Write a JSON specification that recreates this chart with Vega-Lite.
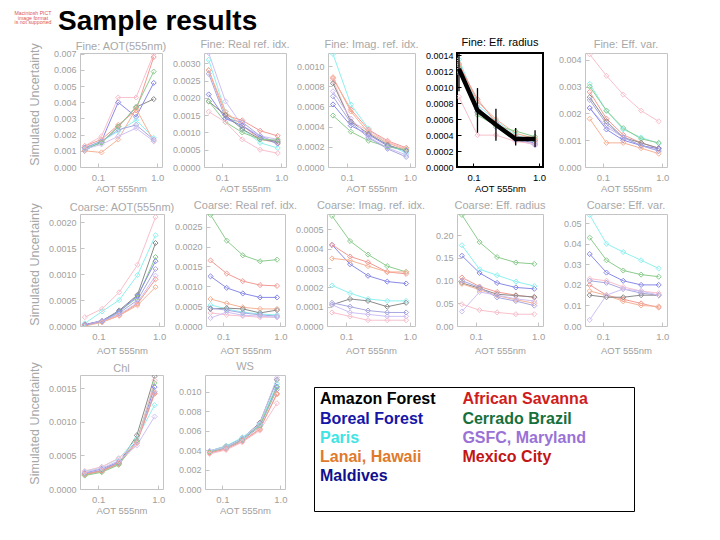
{
"$schema": "https://vega.github.io/schema/vega-lite/v6.json",
"padding": {"left": 14, "top": 8, "right": 0, "bottom": 0},
"background": "white",
"title": {"text": ["Macintosh PICT", "image format", "is not supported"], "fontSize": 5.2, "lineHeight": 4.5, "color": "#dd5555", "fontWeight": "normal", "anchor": "start", "frame": "group", "align": "center", "dx": -47, "offset": -17},
"config": {
  "font": "Liberation Sans",
  "view": {"stroke": "#c4c4c4", "strokeWidth": 1},
  "axis": {"grid": false, "domain": false, "ticks": true, "tickSize": -4, "tickColor": "#c4c4c4", "tickWidth": 1, "labelColor": "#a0a0a0", "titleColor": "#a0a0a0", "labelFontSize": 9, "titleFontSize": 9.5, "titleFontWeight": "normal", "labelPadding": 8, "labelFlush": false, "labelOverlap": false, "labelFont": "Liberation Sans", "titleFont": "Liberation Sans"},
  "axisX": {"labelPadding": 9, "titlePadding": 1.5, "labelFontSize": 9.5},
  "title": {"color": "#a8a8a8", "fontSize": 11, "fontWeight": "normal", "offset": 3, "frame": "group", "anchor": "middle", "font": "Liberation Sans"}
},
"datasets": {
"sites": [{"site":"Amazon Forest"},{"site":"Boreal Forest"},{"site":"Paris"},{"site":"Lanai, Hawaii"},{"site":"Maldives"},{"site":"African Savanna"},{"site":"Cerrado Brazil"},{"site":"GSFC, Maryland"},{"site":"Mexico City"}],
"fine_aot": [
{"site":"Amazon Forest","aot":0.06,"value":0.0012},{"site":"Amazon Forest","aot":0.115,"value":0.0015},{"site":"Amazon Forest","aot":0.22,"value":0.0025},{"site":"Amazon Forest","aot":0.44,"value":0.0037},{"site":"Amazon Forest","aot":0.87,"value":0.0042},
{"site":"Boreal Forest","aot":0.06,"value":0.0010},{"site":"Boreal Forest","aot":0.115,"value":0.0016},{"site":"Boreal Forest","aot":0.22,"value":0.0040},{"site":"Boreal Forest","aot":0.44,"value":0.0031},{"site":"Boreal Forest","aot":0.87,"value":0.0052},
{"site":"Paris","aot":0.06,"value":0.0011},{"site":"Paris","aot":0.115,"value":0.0016},{"site":"Paris","aot":0.22,"value":0.0022},{"site":"Paris","aot":0.44,"value":0.0029},{"site":"Paris","aot":0.87,"value":0.0018},
{"site":"Lanai, Hawaii","aot":0.06,"value":0.0010},{"site":"Lanai, Hawaii","aot":0.115,"value":0.0009},{"site":"Lanai, Hawaii","aot":0.22,"value":0.0017},{"site":"Lanai, Hawaii","aot":0.44,"value":0.0036},{"site":"Lanai, Hawaii","aot":0.87,"value":0.0016},
{"site":"Maldives","aot":0.06,"value":0.0012},{"site":"Maldives","aot":0.115,"value":0.0016},{"site":"Maldives","aot":0.22,"value":0.0023},{"site":"Maldives","aot":0.44,"value":0.0026},{"site":"Maldives","aot":0.87,"value":0.0017},
{"site":"African Savanna","aot":0.06,"value":0.0013},{"site":"African Savanna","aot":0.115,"value":0.0017},{"site":"African Savanna","aot":0.22,"value":0.0026},{"site":"African Savanna","aot":0.44,"value":0.0035},{"site":"African Savanna","aot":0.87,"value":0.0068},
{"site":"Cerrado Brazil","aot":0.06,"value":0.0011},{"site":"Cerrado Brazil","aot":0.115,"value":0.0015},{"site":"Cerrado Brazil","aot":0.22,"value":0.0025},{"site":"Cerrado Brazil","aot":0.44,"value":0.0037},{"site":"Cerrado Brazil","aot":0.87,"value":0.0059},
{"site":"GSFC, Maryland","aot":0.06,"value":0.0011},{"site":"GSFC, Maryland","aot":0.115,"value":0.0014},{"site":"GSFC, Maryland","aot":0.22,"value":0.0019},{"site":"GSFC, Maryland","aot":0.44,"value":0.0024},{"site":"GSFC, Maryland","aot":0.87,"value":0.0016},
{"site":"Mexico City","aot":0.06,"value":0.0013},{"site":"Mexico City","aot":0.115,"value":0.0019},{"site":"Mexico City","aot":0.22,"value":0.0043},{"site":"Mexico City","aot":0.44,"value":0.0043},{"site":"Mexico City","aot":0.87,"value":0.0070}
],
"fine_real": [
{"site":"GSFC, Maryland","aot":0.06,"value":0.0033},{"site":"GSFC, Maryland","aot":0.115,"value":0.0019},{"site":"GSFC, Maryland","aot":0.22,"value":0.0012},{"site":"GSFC, Maryland","aot":0.44,"value":0.0009},{"site":"GSFC, Maryland","aot":0.87,"value":0.0008},
{"site":"Paris","aot":0.06,"value":0.0031},{"site":"Paris","aot":0.115,"value":0.0016},{"site":"Paris","aot":0.22,"value":0.0011},{"site":"Paris","aot":0.44,"value":0.0007},{"site":"Paris","aot":0.87,"value":0.00055},
{"site":"African Savanna","aot":0.06,"value":0.0028},{"site":"African Savanna","aot":0.115,"value":0.0015},{"site":"African Savanna","aot":0.22,"value":0.00135},{"site":"African Savanna","aot":0.44,"value":0.00105},{"site":"African Savanna","aot":0.87,"value":0.0009},
{"site":"Maldives","aot":0.06,"value":0.0027},{"site":"Maldives","aot":0.115,"value":0.0014},{"site":"Maldives","aot":0.22,"value":0.0013},{"site":"Maldives","aot":0.44,"value":0.0009},{"site":"Maldives","aot":0.87,"value":0.0007},
{"site":"Lanai, Hawaii","aot":0.06,"value":0.0028},{"site":"Lanai, Hawaii","aot":0.115,"value":0.0016},{"site":"Lanai, Hawaii","aot":0.22,"value":0.0012},{"site":"Lanai, Hawaii","aot":0.44,"value":0.0008},{"site":"Lanai, Hawaii","aot":0.87,"value":0.0007},
{"site":"Boreal Forest","aot":0.06,"value":0.0021},{"site":"Boreal Forest","aot":0.115,"value":0.0014},{"site":"Boreal Forest","aot":0.22,"value":0.0012},{"site":"Boreal Forest","aot":0.44,"value":0.00085},{"site":"Boreal Forest","aot":0.87,"value":0.00068},
{"site":"Amazon Forest","aot":0.06,"value":0.0019},{"site":"Amazon Forest","aot":0.115,"value":0.0015},{"site":"Amazon Forest","aot":0.22,"value":0.0011},{"site":"Amazon Forest","aot":0.44,"value":0.0008},{"site":"Amazon Forest","aot":0.87,"value":0.00075},
{"site":"Cerrado Brazil","aot":0.06,"value":0.0019},{"site":"Cerrado Brazil","aot":0.115,"value":0.0013},{"site":"Cerrado Brazil","aot":0.22,"value":0.0010},{"site":"Cerrado Brazil","aot":0.44,"value":0.0008},{"site":"Cerrado Brazil","aot":0.87,"value":0.00078},
{"site":"Mexico City","aot":0.06,"value":0.0016},{"site":"Mexico City","aot":0.115,"value":0.0013},{"site":"Mexico City","aot":0.22,"value":0.0008},{"site":"Mexico City","aot":0.44,"value":0.0005},{"site":"Mexico City","aot":0.87,"value":0.0004}
],
"fine_imag": [
{"site":"Paris","aot":0.06,"value":0.00112},{"site":"Paris","aot":0.115,"value":0.00062},{"site":"Paris","aot":0.22,"value":0.00038},{"site":"Paris","aot":0.44,"value":0.00022},{"site":"Paris","aot":0.87,"value":0.00014},
{"site":"African Savanna","aot":0.06,"value":0.00088},{"site":"African Savanna","aot":0.115,"value":0.00057},{"site":"African Savanna","aot":0.22,"value":0.00037},{"site":"African Savanna","aot":0.44,"value":0.00026},{"site":"African Savanna","aot":0.87,"value":0.00019},
{"site":"Mexico City","aot":0.06,"value":0.00086},{"site":"Mexico City","aot":0.115,"value":0.00045},{"site":"Mexico City","aot":0.22,"value":0.00036},{"site":"Mexico City","aot":0.44,"value":0.00025},{"site":"Mexico City","aot":0.87,"value":0.00018},
{"site":"Lanai, Hawaii","aot":0.06,"value":0.00089},{"site":"Lanai, Hawaii","aot":0.115,"value":0.00055},{"site":"Lanai, Hawaii","aot":0.22,"value":0.00034},{"site":"Lanai, Hawaii","aot":0.44,"value":0.00024},{"site":"Lanai, Hawaii","aot":0.87,"value":0.00017},
{"site":"Amazon Forest","aot":0.06,"value":0.00083},{"site":"Amazon Forest","aot":0.115,"value":0.00045},{"site":"Amazon Forest","aot":0.22,"value":0.00033},{"site":"Amazon Forest","aot":0.44,"value":0.00022},{"site":"Amazon Forest","aot":0.87,"value":0.00016},
{"site":"Boreal Forest","aot":0.06,"value":0.00062},{"site":"Boreal Forest","aot":0.115,"value":0.00041},{"site":"Boreal Forest","aot":0.22,"value":0.00032},{"site":"Boreal Forest","aot":0.44,"value":0.00021},{"site":"Boreal Forest","aot":0.87,"value":0.00016},
{"site":"Cerrado Brazil","aot":0.06,"value":0.00051},{"site":"Cerrado Brazil","aot":0.115,"value":0.00035},{"site":"Cerrado Brazil","aot":0.22,"value":0.00026},{"site":"Cerrado Brazil","aot":0.44,"value":0.00020},{"site":"Cerrado Brazil","aot":0.87,"value":0.00017},
{"site":"GSFC, Maryland","aot":0.06,"value":0.00075},{"site":"GSFC, Maryland","aot":0.115,"value":0.00048},{"site":"GSFC, Maryland","aot":0.22,"value":0.00030},{"site":"GSFC, Maryland","aot":0.44,"value":0.00019},{"site":"GSFC, Maryland","aot":0.87,"value":0.00012},
{"site":"Maldives","aot":0.06,"value":0.00070},{"site":"Maldives","aot":0.115,"value":0.00044},{"site":"Maldives","aot":0.22,"value":0.00029},{"site":"Maldives","aot":0.44,"value":0.00018},{"site":"Maldives","aot":0.87,"value":0.00010}
],
"fine_radius": [
{"site":"Amazon Forest","aot":0.06,"value":0.00125},{"site":"Amazon Forest","aot":0.115,"value":0.00068},{"site":"Amazon Forest","aot":0.22,"value":0.00052},{"site":"Amazon Forest","aot":0.44,"value":0.00038},{"site":"Amazon Forest","aot":0.87,"value":0.00033},
{"site":"Boreal Forest","aot":0.06,"value":0.0012},{"site":"Boreal Forest","aot":0.115,"value":0.00072},{"site":"Boreal Forest","aot":0.22,"value":0.00055},{"site":"Boreal Forest","aot":0.44,"value":0.00035},{"site":"Boreal Forest","aot":0.87,"value":0.00030},
{"site":"Paris","aot":0.06,"value":0.00135},{"site":"Paris","aot":0.115,"value":0.00078},{"site":"Paris","aot":0.22,"value":0.00058},{"site":"Paris","aot":0.44,"value":0.00040},{"site":"Paris","aot":0.87,"value":0.00032},
{"site":"Lanai, Hawaii","aot":0.06,"value":0.0013},{"site":"Lanai, Hawaii","aot":0.115,"value":0.00082},{"site":"Lanai, Hawaii","aot":0.22,"value":0.0006},{"site":"Lanai, Hawaii","aot":0.44,"value":0.00042},{"site":"Lanai, Hawaii","aot":0.87,"value":0.00036},
{"site":"Maldives","aot":0.06,"value":0.00118},{"site":"Maldives","aot":0.115,"value":0.0007},{"site":"Maldives","aot":0.22,"value":0.0005},{"site":"Maldives","aot":0.44,"value":0.00034},{"site":"Maldives","aot":0.87,"value":0.00028},
{"site":"African Savanna","aot":0.06,"value":0.00128},{"site":"African Savanna","aot":0.115,"value":0.00085},{"site":"African Savanna","aot":0.22,"value":0.00056},{"site":"African Savanna","aot":0.44,"value":0.00038},{"site":"African Savanna","aot":0.87,"value":0.00034},
{"site":"Cerrado Brazil","aot":0.06,"value":0.00125},{"site":"Cerrado Brazil","aot":0.115,"value":0.00065},{"site":"Cerrado Brazil","aot":0.22,"value":0.00052},{"site":"Cerrado Brazil","aot":0.44,"value":0.00045},{"site":"Cerrado Brazil","aot":0.87,"value":0.00038},
{"site":"GSFC, Maryland","aot":0.06,"value":0.00122},{"site":"GSFC, Maryland","aot":0.115,"value":0.00075},{"site":"GSFC, Maryland","aot":0.22,"value":0.00054},{"site":"GSFC, Maryland","aot":0.44,"value":0.00036},{"site":"GSFC, Maryland","aot":0.87,"value":0.00027},
{"site":"Mexico City","aot":0.06,"value":0.00088},{"site":"Mexico City","aot":0.115,"value":0.0004},{"site":"Mexico City","aot":0.22,"value":0.0004},{"site":"Mexico City","aot":0.44,"value":0.00032},{"site":"Mexico City","aot":0.87,"value":0.00029}
],
"fine_radius_mean": [
{"aot":0.06,"mean":0.00123,"lo":0.00095,"hi":0.0016},
{"aot":0.115,"mean":0.00071,"lo":0.00043,"hi":0.00099},
{"aot":0.22,"mean":0.00053,"lo":0.00033,"hi":0.00073},
{"aot":0.44,"mean":0.00035,"lo":0.00027,"hi":0.00049},
{"aot":0.87,"mean":0.00035,"lo":0.00025,"hi":0.00046}
],
"fine_var": [
{"site":"Mexico City","aot":0.06,"value":0.0042},{"site":"Mexico City","aot":0.115,"value":0.0034},{"site":"Mexico City","aot":0.22,"value":0.0027},{"site":"Mexico City","aot":0.44,"value":0.0021},{"site":"Mexico City","aot":0.87,"value":0.0017},
{"site":"Paris","aot":0.06,"value":0.0031},{"site":"Paris","aot":0.115,"value":0.0021},{"site":"Paris","aot":0.22,"value":0.0014},{"site":"Paris","aot":0.44,"value":0.0011},{"site":"Paris","aot":0.87,"value":0.00088},
{"site":"Cerrado Brazil","aot":0.06,"value":0.0030},{"site":"Cerrado Brazil","aot":0.115,"value":0.0021},{"site":"Cerrado Brazil","aot":0.22,"value":0.00145},{"site":"Cerrado Brazil","aot":0.44,"value":0.00105},{"site":"Cerrado Brazil","aot":0.87,"value":0.0009},
{"site":"African Savanna","aot":0.06,"value":0.0028},{"site":"African Savanna","aot":0.115,"value":0.0018},{"site":"African Savanna","aot":0.22,"value":0.0012},{"site":"African Savanna","aot":0.44,"value":0.0009},{"site":"African Savanna","aot":0.87,"value":0.0007},
{"site":"Amazon Forest","aot":0.06,"value":0.0026},{"site":"Amazon Forest","aot":0.115,"value":0.0017},{"site":"Amazon Forest","aot":0.22,"value":0.0011},{"site":"Amazon Forest","aot":0.44,"value":0.0009},{"site":"Amazon Forest","aot":0.87,"value":0.0007},
{"site":"GSFC, Maryland","aot":0.06,"value":0.0022},{"site":"GSFC, Maryland","aot":0.115,"value":0.0015},{"site":"GSFC, Maryland","aot":0.22,"value":0.0011},{"site":"GSFC, Maryland","aot":0.44,"value":0.0008},{"site":"GSFC, Maryland","aot":0.87,"value":0.0006},
{"site":"Boreal Forest","aot":0.06,"value":0.0022},{"site":"Boreal Forest","aot":0.115,"value":0.0014},{"site":"Boreal Forest","aot":0.22,"value":0.0010},{"site":"Boreal Forest","aot":0.44,"value":0.0008},{"site":"Boreal Forest","aot":0.87,"value":0.00068},
{"site":"Maldives","aot":0.06,"value":0.0025},{"site":"Maldives","aot":0.115,"value":0.0016},{"site":"Maldives","aot":0.22,"value":0.0011},{"site":"Maldives","aot":0.44,"value":0.0008},{"site":"Maldives","aot":0.87,"value":0.0006},
{"site":"Lanai, Hawaii","aot":0.06,"value":0.0018},{"site":"Lanai, Hawaii","aot":0.115,"value":0.0009},{"site":"Lanai, Hawaii","aot":0.22,"value":0.0009},{"site":"Lanai, Hawaii","aot":0.44,"value":0.0007},{"site":"Lanai, Hawaii","aot":0.87,"value":0.0005}
],
"coarse_aot": [
{"site":"Mexico City","aot":0.06,"value":0.00017},{"site":"Mexico City","aot":0.115,"value":0.00033},{"site":"Mexico City","aot":0.22,"value":0.00065},{"site":"Mexico City","aot":0.44,"value":0.00118},{"site":"Mexico City","aot":0.87,"value":0.0021},
{"site":"Paris","aot":0.06,"value":0.00005},{"site":"Paris","aot":0.115,"value":0.00028},{"site":"Paris","aot":0.22,"value":0.0005},{"site":"Paris","aot":0.44,"value":0.00098},{"site":"Paris","aot":0.87,"value":0.00175},
{"site":"Amazon Forest","aot":0.06,"value":0.00002},{"site":"Amazon Forest","aot":0.115,"value":0.0001},{"site":"Amazon Forest","aot":0.22,"value":0.0003},{"site":"Amazon Forest","aot":0.44,"value":0.0006},{"site":"Amazon Forest","aot":0.87,"value":0.0016},
{"site":"Cerrado Brazil","aot":0.06,"value":0.00002},{"site":"Cerrado Brazil","aot":0.115,"value":0.0001},{"site":"Cerrado Brazil","aot":0.22,"value":0.00028},{"site":"Cerrado Brazil","aot":0.44,"value":0.00055},{"site":"Cerrado Brazil","aot":0.87,"value":0.00133},
{"site":"Boreal Forest","aot":0.06,"value":0.00003},{"site":"Boreal Forest","aot":0.115,"value":0.0001},{"site":"Boreal Forest","aot":0.22,"value":0.00028},{"site":"Boreal Forest","aot":0.44,"value":0.00058},{"site":"Boreal Forest","aot":0.87,"value":0.00125},
{"site":"GSFC, Maryland","aot":0.06,"value":0.00001},{"site":"GSFC, Maryland","aot":0.115,"value":0.0001},{"site":"GSFC, Maryland","aot":0.22,"value":0.00022},{"site":"GSFC, Maryland","aot":0.44,"value":0.00045},{"site":"GSFC, Maryland","aot":0.87,"value":0.00097},
{"site":"African Savanna","aot":0.06,"value":0.00002},{"site":"African Savanna","aot":0.115,"value":0.00008},{"site":"African Savanna","aot":0.22,"value":0.0002},{"site":"African Savanna","aot":0.44,"value":0.00043},{"site":"African Savanna","aot":0.87,"value":0.0009},
{"site":"Lanai, Hawaii","aot":0.06,"value":0.0},{"site":"Lanai, Hawaii","aot":0.115,"value":0.00007},{"site":"Lanai, Hawaii","aot":0.22,"value":0.0002},{"site":"Lanai, Hawaii","aot":0.44,"value":0.0004},{"site":"Lanai, Hawaii","aot":0.87,"value":0.00075},
{"site":"Maldives","aot":0.06,"value":0.00001},{"site":"Maldives","aot":0.115,"value":0.00009},{"site":"Maldives","aot":0.22,"value":0.00025},{"site":"Maldives","aot":0.44,"value":0.0005},{"site":"Maldives","aot":0.87,"value":0.0011}
],
"coarse_real": [
{"site":"Cerrado Brazil","aot":0.06,"value":0.0028},{"site":"Cerrado Brazil","aot":0.115,"value":0.00215},{"site":"Cerrado Brazil","aot":0.22,"value":0.00178},{"site":"Cerrado Brazil","aot":0.44,"value":0.00163},{"site":"Cerrado Brazil","aot":0.87,"value":0.00167},
{"site":"African Savanna","aot":0.06,"value":0.00165},{"site":"African Savanna","aot":0.115,"value":0.00132},{"site":"African Savanna","aot":0.22,"value":0.00113},{"site":"African Savanna","aot":0.44,"value":0.00103},{"site":"African Savanna","aot":0.87,"value":0.00101},
{"site":"Boreal Forest","aot":0.06,"value":0.00125},{"site":"Boreal Forest","aot":0.115,"value":0.00096},{"site":"Boreal Forest","aot":0.22,"value":0.00082},{"site":"Boreal Forest","aot":0.44,"value":0.00072},{"site":"Boreal Forest","aot":0.87,"value":0.00072},
{"site":"Lanai, Hawaii","aot":0.06,"value":0.00068},{"site":"Lanai, Hawaii","aot":0.115,"value":0.00057},{"site":"Lanai, Hawaii","aot":0.22,"value":0.00047},{"site":"Lanai, Hawaii","aot":0.44,"value":0.00043},{"site":"Lanai, Hawaii","aot":0.87,"value":0.00043},
{"site":"Paris","aot":0.06,"value":0.00053},{"site":"Paris","aot":0.115,"value":0.00043},{"site":"Paris","aot":0.22,"value":0.00035},{"site":"Paris","aot":0.44,"value":0.0003},{"site":"Paris","aot":0.87,"value":0.00028},
{"site":"Amazon Forest","aot":0.06,"value":0.00043},{"site":"Amazon Forest","aot":0.115,"value":0.00045},{"site":"Amazon Forest","aot":0.22,"value":0.00043},{"site":"Amazon Forest","aot":0.44,"value":0.00033},{"site":"Amazon Forest","aot":0.87,"value":0.0004},
{"site":"Mexico City","aot":0.06,"value":0.00033},{"site":"Mexico City","aot":0.115,"value":0.00028},{"site":"Mexico City","aot":0.22,"value":0.00025},{"site":"Mexico City","aot":0.44,"value":0.00022},{"site":"Mexico City","aot":0.87,"value":0.00022},
{"site":"GSFC, Maryland","aot":0.06,"value":0.0002},{"site":"GSFC, Maryland","aot":0.115,"value":0.00035},{"site":"GSFC, Maryland","aot":0.22,"value":0.00027},{"site":"GSFC, Maryland","aot":0.44,"value":0.00025},{"site":"GSFC, Maryland","aot":0.87,"value":0.00022},
{"site":"Maldives","aot":0.06,"value":0.00045},{"site":"Maldives","aot":0.115,"value":0.0004},{"site":"Maldives","aot":0.22,"value":0.00033},{"site":"Maldives","aot":0.44,"value":0.00028},{"site":"Maldives","aot":0.87,"value":0.00025}
],
"coarse_imag": [
{"site":"Cerrado Brazil","aot":0.06,"value":0.00057},{"site":"Cerrado Brazil","aot":0.115,"value":0.00044},{"site":"Cerrado Brazil","aot":0.22,"value":0.00037},{"site":"Cerrado Brazil","aot":0.44,"value":0.00031},{"site":"Cerrado Brazil","aot":0.87,"value":0.00028},
{"site":"Boreal Forest","aot":0.06,"value":0.00042},{"site":"Boreal Forest","aot":0.115,"value":0.00032},{"site":"Boreal Forest","aot":0.22,"value":0.00026},{"site":"Boreal Forest","aot":0.44,"value":0.00023},{"site":"Boreal Forest","aot":0.87,"value":0.00022},
{"site":"African Savanna","aot":0.06,"value":0.00042},{"site":"African Savanna","aot":0.115,"value":0.00036},{"site":"African Savanna","aot":0.22,"value":0.00033},{"site":"African Savanna","aot":0.44,"value":0.00028},{"site":"African Savanna","aot":0.87,"value":0.00027},
{"site":"Lanai, Hawaii","aot":0.06,"value":0.00035},{"site":"Lanai, Hawaii","aot":0.115,"value":0.00034},{"site":"Lanai, Hawaii","aot":0.22,"value":0.00031},{"site":"Lanai, Hawaii","aot":0.44,"value":0.00028},{"site":"Lanai, Hawaii","aot":0.87,"value":0.00028},
{"site":"Paris","aot":0.06,"value":0.00021},{"site":"Paris","aot":0.115,"value":0.00017},{"site":"Paris","aot":0.22,"value":0.00014},{"site":"Paris","aot":0.44,"value":0.00013},{"site":"Paris","aot":0.87,"value":0.00013},
{"site":"Amazon Forest","aot":0.06,"value":0.00011},{"site":"Amazon Forest","aot":0.115,"value":0.00014},{"site":"Amazon Forest","aot":0.22,"value":0.00013},{"site":"Amazon Forest","aot":0.44,"value":0.0001},{"site":"Amazon Forest","aot":0.87,"value":0.00012},
{"site":"GSFC, Maryland","aot":0.06,"value":0.00011},{"site":"GSFC, Maryland","aot":0.115,"value":0.00007},{"site":"GSFC, Maryland","aot":0.22,"value":0.00006},{"site":"GSFC, Maryland","aot":0.44,"value":0.00005},{"site":"GSFC, Maryland","aot":0.87,"value":0.00005},
{"site":"Mexico City","aot":0.06,"value":0.00007},{"site":"Mexico City","aot":0.115,"value":0.00005},{"site":"Mexico City","aot":0.22,"value":0.00003},{"site":"Mexico City","aot":0.44,"value":0.00003},{"site":"Mexico City","aot":0.87,"value":0.00003},
{"site":"Maldives","aot":0.06,"value":0.00012},{"site":"Maldives","aot":0.115,"value":0.0001},{"site":"Maldives","aot":0.22,"value":0.00008},{"site":"Maldives","aot":0.44,"value":0.00007},{"site":"Maldives","aot":0.87,"value":0.00007}
],
"coarse_radius": [
{"site":"Cerrado Brazil","aot":0.06,"value":0.245},{"site":"Cerrado Brazil","aot":0.115,"value":0.185},{"site":"Cerrado Brazil","aot":0.22,"value":0.152},{"site":"Cerrado Brazil","aot":0.44,"value":0.14},{"site":"Cerrado Brazil","aot":0.87,"value":0.137},
{"site":"Paris","aot":0.06,"value":0.178},{"site":"Paris","aot":0.115,"value":0.125},{"site":"Paris","aot":0.22,"value":0.112},{"site":"Paris","aot":0.44,"value":0.098},{"site":"Paris","aot":0.87,"value":0.088},
{"site":"Boreal Forest","aot":0.06,"value":0.155},{"site":"Boreal Forest","aot":0.115,"value":0.117},{"site":"Boreal Forest","aot":0.22,"value":0.095},{"site":"Boreal Forest","aot":0.44,"value":0.085},{"site":"Boreal Forest","aot":0.87,"value":0.082},
{"site":"African Savanna","aot":0.06,"value":0.107},{"site":"African Savanna","aot":0.115,"value":0.087},{"site":"African Savanna","aot":0.22,"value":0.075},{"site":"African Savanna","aot":0.44,"value":0.068},{"site":"African Savanna","aot":0.87,"value":0.063},
{"site":"Amazon Forest","aot":0.06,"value":0.095},{"site":"Amazon Forest","aot":0.115,"value":0.083},{"site":"Amazon Forest","aot":0.22,"value":0.07},{"site":"Amazon Forest","aot":0.44,"value":0.067},{"site":"Amazon Forest","aot":0.87,"value":0.064},
{"site":"Lanai, Hawaii","aot":0.06,"value":0.093},{"site":"Lanai, Hawaii","aot":0.115,"value":0.08},{"site":"Lanai, Hawaii","aot":0.22,"value":0.067},{"site":"Lanai, Hawaii","aot":0.44,"value":0.058},{"site":"Lanai, Hawaii","aot":0.87,"value":0.05},
{"site":"Maldives","aot":0.06,"value":0.1},{"site":"Maldives","aot":0.115,"value":0.085},{"site":"Maldives","aot":0.22,"value":0.063},{"site":"Maldives","aot":0.44,"value":0.055},{"site":"Maldives","aot":0.87,"value":0.045},
{"site":"Mexico City","aot":0.06,"value":0.048},{"site":"Mexico City","aot":0.115,"value":0.035},{"site":"Mexico City","aot":0.22,"value":0.03},{"site":"Mexico City","aot":0.44,"value":0.026},{"site":"Mexico City","aot":0.87,"value":0.026},
{"site":"GSFC, Maryland","aot":0.06,"value":0.032},{"site":"GSFC, Maryland","aot":0.115,"value":0.075},{"site":"GSFC, Maryland","aot":0.22,"value":0.068},{"site":"GSFC, Maryland","aot":0.44,"value":0.06},{"site":"GSFC, Maryland","aot":0.87,"value":0.055}
],
"coarse_var": [
{"site":"Paris","aot":0.06,"value":0.054},{"site":"Paris","aot":0.115,"value":0.04},{"site":"Paris","aot":0.22,"value":0.036},{"site":"Paris","aot":0.44,"value":0.032},{"site":"Paris","aot":0.87,"value":0.028},
{"site":"Cerrado Brazil","aot":0.06,"value":0.043},{"site":"Cerrado Brazil","aot":0.115,"value":0.032},{"site":"Cerrado Brazil","aot":0.22,"value":0.027},{"site":"Cerrado Brazil","aot":0.44,"value":0.025},{"site":"Cerrado Brazil","aot":0.87,"value":0.024},
{"site":"Boreal Forest","aot":0.06,"value":0.035},{"site":"Boreal Forest","aot":0.115,"value":0.026},{"site":"Boreal Forest","aot":0.22,"value":0.022},{"site":"Boreal Forest","aot":0.44,"value":0.02},{"site":"Boreal Forest","aot":0.87,"value":0.02},
{"site":"Mexico City","aot":0.06,"value":0.023},{"site":"Mexico City","aot":0.115,"value":0.022},{"site":"Mexico City","aot":0.22,"value":0.019},{"site":"Mexico City","aot":0.44,"value":0.017},{"site":"Mexico City","aot":0.87,"value":0.016},
{"site":"Maldives","aot":0.06,"value":0.022},{"site":"Maldives","aot":0.115,"value":0.021},{"site":"Maldives","aot":0.22,"value":0.018},{"site":"Maldives","aot":0.44,"value":0.016},{"site":"Maldives","aot":0.87,"value":0.015},
{"site":"African Savanna","aot":0.06,"value":0.02},{"site":"African Savanna","aot":0.115,"value":0.015},{"site":"African Savanna","aot":0.22,"value":0.013},{"site":"African Savanna","aot":0.44,"value":0.011},{"site":"African Savanna","aot":0.87,"value":0.009},
{"site":"Lanai, Hawaii","aot":0.06,"value":0.017},{"site":"Lanai, Hawaii","aot":0.115,"value":0.015},{"site":"Lanai, Hawaii","aot":0.22,"value":0.012},{"site":"Lanai, Hawaii","aot":0.44,"value":0.01},{"site":"Lanai, Hawaii","aot":0.87,"value":0.0095},
{"site":"Amazon Forest","aot":0.06,"value":0.015},{"site":"Amazon Forest","aot":0.115,"value":0.014},{"site":"Amazon Forest","aot":0.22,"value":0.014},{"site":"Amazon Forest","aot":0.44,"value":0.015},{"site":"Amazon Forest","aot":0.87,"value":0.015},
{"site":"GSFC, Maryland","aot":0.06,"value":0.003},{"site":"GSFC, Maryland","aot":0.115,"value":0.015},{"site":"GSFC, Maryland","aot":0.22,"value":0.018},{"site":"GSFC, Maryland","aot":0.44,"value":0.017},{"site":"GSFC, Maryland","aot":0.87,"value":0.015}
],
"chl": [
{"site":"Amazon Forest","aot":0.06,"value":0.00022},{"site":"Amazon Forest","aot":0.115,"value":0.00027},{"site":"Amazon Forest","aot":0.22,"value":0.00038},{"site":"Amazon Forest","aot":0.44,"value":0.0008},{"site":"Amazon Forest","aot":0.87,"value":0.00168},
{"site":"Boreal Forest","aot":0.06,"value":0.00024},{"site":"Boreal Forest","aot":0.115,"value":0.0003},{"site":"Boreal Forest","aot":0.22,"value":0.0004},{"site":"Boreal Forest","aot":0.44,"value":0.00072},{"site":"Boreal Forest","aot":0.87,"value":0.00152},
{"site":"Paris","aot":0.06,"value":0.00026},{"site":"Paris","aot":0.115,"value":0.00033},{"site":"Paris","aot":0.22,"value":0.00045},{"site":"Paris","aot":0.44,"value":0.00075},{"site":"Paris","aot":0.87,"value":0.00125},
{"site":"Lanai, Hawaii","aot":0.06,"value":0.00021},{"site":"Lanai, Hawaii","aot":0.115,"value":0.00026},{"site":"Lanai, Hawaii","aot":0.22,"value":0.00037},{"site":"Lanai, Hawaii","aot":0.44,"value":0.00068},{"site":"Lanai, Hawaii","aot":0.87,"value":0.00143},
{"site":"Maldives","aot":0.06,"value":0.00023},{"site":"Maldives","aot":0.115,"value":0.00028},{"site":"Maldives","aot":0.22,"value":0.0004},{"site":"Maldives","aot":0.44,"value":0.0007},{"site":"Maldives","aot":0.87,"value":0.00145},
{"site":"African Savanna","aot":0.06,"value":0.00022},{"site":"African Savanna","aot":0.115,"value":0.00027},{"site":"African Savanna","aot":0.22,"value":0.00038},{"site":"African Savanna","aot":0.44,"value":0.0007},{"site":"African Savanna","aot":0.87,"value":0.00142},
{"site":"Cerrado Brazil","aot":0.06,"value":0.0002},{"site":"Cerrado Brazil","aot":0.115,"value":0.00025},{"site":"Cerrado Brazil","aot":0.22,"value":0.00036},{"site":"Cerrado Brazil","aot":0.44,"value":0.00072},{"site":"Cerrado Brazil","aot":0.87,"value":0.00158},
{"site":"GSFC, Maryland","aot":0.06,"value":0.00025},{"site":"GSFC, Maryland","aot":0.115,"value":0.00031},{"site":"GSFC, Maryland","aot":0.22,"value":0.00042},{"site":"GSFC, Maryland","aot":0.44,"value":0.00065},{"site":"GSFC, Maryland","aot":0.87,"value":0.00108},
{"site":"Mexico City","aot":0.06,"value":0.00027},{"site":"Mexico City","aot":0.115,"value":0.00033},{"site":"Mexico City","aot":0.22,"value":0.00046},{"site":"Mexico City","aot":0.44,"value":0.00068},{"site":"Mexico City","aot":0.87,"value":0.00162}
],
"ws": [
{"site":"Amazon Forest","aot":0.06,"value":0.0039},{"site":"Amazon Forest","aot":0.115,"value":0.0044},{"site":"Amazon Forest","aot":0.22,"value":0.0052},{"site":"Amazon Forest","aot":0.44,"value":0.0068},{"site":"Amazon Forest","aot":0.87,"value":0.0112},
{"site":"Boreal Forest","aot":0.06,"value":0.0038},{"site":"Boreal Forest","aot":0.115,"value":0.0043},{"site":"Boreal Forest","aot":0.22,"value":0.0051},{"site":"Boreal Forest","aot":0.44,"value":0.0066},{"site":"Boreal Forest","aot":0.87,"value":0.0105},
{"site":"Paris","aot":0.06,"value":0.0039},{"site":"Paris","aot":0.115,"value":0.0044},{"site":"Paris","aot":0.22,"value":0.0053},{"site":"Paris","aot":0.44,"value":0.0066},{"site":"Paris","aot":0.87,"value":0.0108},
{"site":"Lanai, Hawaii","aot":0.06,"value":0.0037},{"site":"Lanai, Hawaii","aot":0.115,"value":0.0041},{"site":"Lanai, Hawaii","aot":0.22,"value":0.0049},{"site":"Lanai, Hawaii","aot":0.44,"value":0.0062},{"site":"Lanai, Hawaii","aot":0.87,"value":0.0097},
{"site":"Maldives","aot":0.06,"value":0.0038},{"site":"Maldives","aot":0.115,"value":0.0042},{"site":"Maldives","aot":0.22,"value":0.005},{"site":"Maldives","aot":0.44,"value":0.0064},{"site":"Maldives","aot":0.87,"value":0.0102},
{"site":"African Savanna","aot":0.06,"value":0.0037},{"site":"African Savanna","aot":0.115,"value":0.0041},{"site":"African Savanna","aot":0.22,"value":0.0049},{"site":"African Savanna","aot":0.44,"value":0.0061},{"site":"African Savanna","aot":0.87,"value":0.0098},
{"site":"Cerrado Brazil","aot":0.06,"value":0.0038},{"site":"Cerrado Brazil","aot":0.115,"value":0.0043},{"site":"Cerrado Brazil","aot":0.22,"value":0.0051},{"site":"Cerrado Brazil","aot":0.44,"value":0.0065},{"site":"Cerrado Brazil","aot":0.87,"value":0.0104},
{"site":"GSFC, Maryland","aot":0.06,"value":0.0039},{"site":"GSFC, Maryland","aot":0.115,"value":0.0043},{"site":"GSFC, Maryland","aot":0.22,"value":0.0052},{"site":"GSFC, Maryland","aot":0.44,"value":0.0067},{"site":"GSFC, Maryland","aot":0.87,"value":0.0114},
{"site":"Mexico City","aot":0.06,"value":0.0036},{"site":"Mexico City","aot":0.115,"value":0.004},{"site":"Mexico City","aot":0.22,"value":0.0048},{"site":"Mexico City","aot":0.44,"value":0.006},{"site":"Mexico City","aot":0.87,"value":0.0088}
]
},
"spacing": 5,
"resolve": {"legend": {"color": "independent"}},
"vconcat": [
{
 "title": {"text": "Sample results", "fontSize": 28, "fontWeight": "bold", "color": "#000000", "anchor": "start", "frame": "group", "dx": -22, "offset": 0, "font": "Liberation Sans"},
 "spacing": 42, "bounds": "flush",
 "resolve": {"legend": {"color": "independent"}},
 "hconcat": [
  {"width": 82, "height": 114, "title": {"text": "Fine: AOT(555nm)", "offset": -9}, "data": {"name": "fine_aot"},
   "mark": {"type": "line", "strokeWidth": 1, "clip": true, "point": {"shape": "diamond", "filled": false, "size": 26, "strokeWidth": 1, "clip": true}},
   "encoding": {
    "x": {"field": "aot", "type": "quantitative", "scale": {"type": "log", "domain": [0.05, 1.2], "nice": false}, "axis": {"values": [0.1, 1], "format": ".1f", "title": "AOT 555nm"}},
    "y": {"field": "value", "type": "quantitative", "scale": {"domain": [0, 0.00705], "nice": false}, "axis": {"values": [0, 0.001, 0.002, 0.003, 0.004, 0.005, 0.006, 0.007], "format": ".3f", "title": "Simulated Uncertainty", "titleX": -39, "titleY": 51, "titleFontSize": 12.5, "titleColor": "#a8a8a8"}},
    "color": {"field": "site", "type": "nominal", "legend": null, "scale": {"domain": ["Amazon Forest","Boreal Forest","Paris","Lanai, Hawaii","Maldives","African Savanna","Cerrado Brazil","GSFC, Maryland","Mexico City"], "range": ["#8a8a8a","#8a8ae8","#8ff0f0","#f6b296","#a8a8e0","#f29a94","#8ccc8e","#cfc0f4","#f8c0cc"]}}
   }},
  {"width": 82, "height": 114, "title": "Fine: Real ref. idx.", "data": {"name": "fine_real"},
   "mark": {"type": "line", "strokeWidth": 1, "clip": true, "point": {"shape": "diamond", "filled": false, "size": 26, "strokeWidth": 1, "clip": true}},
   "encoding": {
    "x": {"field": "aot", "type": "quantitative", "scale": {"type": "log", "domain": [0.05, 1.2], "nice": false}, "axis": {"values": [0.1, 1], "format": ".1f", "title": "AOT 555nm"}},
    "y": {"field": "value", "type": "quantitative", "scale": {"domain": [0, 0.0033], "nice": false}, "axis": {"values": [0, 0.0005, 0.001, 0.0015, 0.002, 0.0025, 0.003], "format": ".4f", "title": null}},
    "color": {"field": "site", "type": "nominal", "legend": null, "scale": {"domain": ["Amazon Forest","Boreal Forest","Paris","Lanai, Hawaii","Maldives","African Savanna","Cerrado Brazil","GSFC, Maryland","Mexico City"], "range": ["#8a8a8a","#8a8ae8","#8ff0f0","#f6b296","#a8a8e0","#f29a94","#8ccc8e","#cfc0f4","#f8c0cc"]}}
   }},
  {"width": 87, "height": 114, "title": "Fine: Imag. ref. idx.", "data": {"name": "fine_imag"},
   "mark": {"type": "line", "strokeWidth": 1, "clip": true, "point": {"shape": "diamond", "filled": false, "size": 26, "strokeWidth": 1, "clip": true}},
   "encoding": {
    "x": {"field": "aot", "type": "quantitative", "scale": {"type": "log", "domain": [0.05, 1.2], "nice": false}, "axis": {"values": [0.1, 1], "format": ".1f", "title": "AOT 555nm"}},
    "y": {"field": "value", "type": "quantitative", "scale": {"domain": [0, 0.00113], "nice": false}, "axis": {"values": [0, 0.0002, 0.0004, 0.0006, 0.0008, 0.001], "format": ".4f", "title": null}},
    "color": {"field": "site", "type": "nominal", "legend": null, "scale": {"domain": ["Amazon Forest","Boreal Forest","Paris","Lanai, Hawaii","Maldives","African Savanna","Cerrado Brazil","GSFC, Maryland","Mexico City"], "range": ["#8a8a8a","#8a8ae8","#8ff0f0","#f6b296","#a8a8e0","#f29a94","#8ccc8e","#cfc0f4","#f8c0cc"]}}
   }},
  {"width": 86, "height": 114, "title": {"text": "Fine: Eff. radius", "color": "#000000"},
   "view": {"stroke": "#000000", "strokeWidth": 2},
   "layer": [
    {"data": {"name": "fine_radius"},
     "mark": {"type": "line", "strokeWidth": 1, "clip": true, "point": {"shape": "diamond", "filled": false, "size": 26, "strokeWidth": 1, "clip": true}},
     "encoding": {
      "x": {"field": "aot", "type": "quantitative", "scale": {"type": "log", "domain": [0.056, 1.15], "nice": false}, "axis": {"values": [0.1, 1], "format": ".1f", "title": "AOT 555nm", "labelColor": "#000000", "titleColor": "#000000", "tickColor": "#000000"}},
      "y": {"field": "value", "type": "quantitative", "scale": {"domain": [0, 0.00143], "nice": false}, "axis": {"values": [0, 0.0002, 0.0004, 0.0006, 0.0008, 0.001, 0.0012, 0.0014], "format": ".4f", "title": null, "labelColor": "#000000", "tickColor": "#000000"}},
      "color": {"field": "site", "type": "nominal", "legend": null, "scale": {"domain": ["Amazon Forest","Boreal Forest","Paris","Lanai, Hawaii","Maldives","African Savanna","Cerrado Brazil","GSFC, Maryland","Mexico City"], "range": ["#8a8a8a","#8a8ae8","#8ff0f0","#f6b296","#a8a8e0","#f29a94","#8ccc8e","#cfc0f4","#f8c0cc"]}}
     }},
    {"data": {"name": "fine_radius_mean"},
     "mark": {"type": "line", "color": "#000000", "strokeWidth": 4.5, "clip": true},
     "encoding": {
      "x": {"field": "aot", "type": "quantitative", "scale": {"type": "log", "domain": [0.056, 1.15], "nice": false}, "axis": {"values": [0.1, 1], "format": ".1f", "title": "AOT 555nm", "labelColor": "#000000", "titleColor": "#000000", "tickColor": "#000000"}},
      "y": {"field": "mean", "type": "quantitative", "scale": {"domain": [0, 0.00143], "nice": false}, "axis": {"values": [0, 0.0002, 0.0004, 0.0006, 0.0008, 0.001, 0.0012, 0.0014], "format": ".4f", "title": null, "labelColor": "#000000", "tickColor": "#000000"}}
     }},
    {"data": {"name": "fine_radius_mean"},
     "mark": {"type": "rule", "color": "#000000", "strokeWidth": 1.3, "clip": true},
     "encoding": {
      "x": {"field": "aot", "type": "quantitative", "scale": {"type": "log", "domain": [0.056, 1.15], "nice": false}, "axis": {"values": [0.1, 1], "format": ".1f", "title": "AOT 555nm", "labelColor": "#000000", "titleColor": "#000000", "tickColor": "#000000"}},
      "y": {"field": "lo", "type": "quantitative", "scale": {"domain": [0, 0.00143], "nice": false}, "axis": {"values": [0, 0.0002, 0.0004, 0.0006, 0.0008, 0.001, 0.0012, 0.0014], "format": ".4f", "title": null, "labelColor": "#000000", "tickColor": "#000000"}},
      "y2": {"field": "hi"}
     }}
   ]},
  {"width": 82, "height": 114, "title": "Fine: Eff. var.", "data": {"name": "fine_var"},
   "mark": {"type": "line", "strokeWidth": 1, "clip": true, "point": {"shape": "diamond", "filled": false, "size": 26, "strokeWidth": 1, "clip": true}},
   "encoding": {
    "x": {"field": "aot", "type": "quantitative", "scale": {"type": "log", "domain": [0.05, 1.2], "nice": false}, "axis": {"values": [0.1, 1], "format": ".1f", "title": "AOT 555nm"}},
    "y": {"field": "value", "type": "quantitative", "scale": {"domain": [0, 0.00425], "nice": false}, "axis": {"values": [0, 0.001, 0.002, 0.003, 0.004], "format": ".3f", "title": null}},
    "color": {"field": "site", "type": "nominal", "legend": null, "scale": {"domain": ["Amazon Forest","Boreal Forest","Paris","Lanai, Hawaii","Maldives","African Savanna","Cerrado Brazil","GSFC, Maryland","Mexico City"], "range": ["#8a8a8a","#8a8ae8","#8ff0f0","#f6b296","#a8a8e0","#f29a94","#8ccc8e","#cfc0f4","#f8c0cc"]}}
   }}
 ]
},
{
 "spacing": 42, "bounds": "flush",
 "resolve": {"legend": {"color": "independent"}},
 "hconcat": [
  {"width": 84, "height": 112, "title": {"text": "Coarse: AOT(555nm)", "offset": -10}, "data": {"name": "coarse_aot"},
   "mark": {"type": "line", "strokeWidth": 1, "clip": true, "point": {"shape": "diamond", "filled": false, "size": 26, "strokeWidth": 1, "clip": true}},
   "encoding": {
    "x": {"field": "aot", "type": "quantitative", "scale": {"type": "log", "domain": [0.05, 1.2], "nice": false}, "axis": {"values": [0.1, 1], "format": ".1f", "title": "AOT 555nm", "titlePadding": 4.5}},
    "y": {"field": "value", "type": "quantitative", "scale": {"domain": [0, 0.00216], "nice": false}, "axis": {"values": [0, 0.0005, 0.001, 0.0015, 0.002], "format": ".4f", "title": "Simulated Uncertainty", "titleX": -39, "titleY": 50, "titleFontSize": 12.5, "titleColor": "#a8a8a8"}},
    "color": {"field": "site", "type": "nominal", "legend": null, "scale": {"domain": ["Amazon Forest","Boreal Forest","Paris","Lanai, Hawaii","Maldives","African Savanna","Cerrado Brazil","GSFC, Maryland","Mexico City"], "range": ["#8a8a8a","#8a8ae8","#8ff0f0","#f6b296","#a8a8e0","#f29a94","#8ccc8e","#cfc0f4","#f8c0cc"]}}
   }},
  {"width": 79, "height": 112, "title": "Coarse: Real ref. idx.", "data": {"name": "coarse_real"},
   "mark": {"type": "line", "strokeWidth": 1, "clip": true, "point": {"shape": "diamond", "filled": false, "size": 26, "strokeWidth": 1, "clip": true}},
   "encoding": {
    "x": {"field": "aot", "type": "quantitative", "scale": {"type": "log", "domain": [0.05, 1.2], "nice": false}, "axis": {"values": [0.1, 1], "format": ".1f", "title": "AOT 555nm", "titlePadding": 4.5}},
    "y": {"field": "value", "type": "quantitative", "scale": {"domain": [0, 0.00282], "nice": false}, "axis": {"values": [0, 0.0005, 0.001, 0.0015, 0.002, 0.0025], "format": ".4f", "title": null}},
    "color": {"field": "site", "type": "nominal", "legend": null, "scale": {"domain": ["Amazon Forest","Boreal Forest","Paris","Lanai, Hawaii","Maldives","African Savanna","Cerrado Brazil","GSFC, Maryland","Mexico City"], "range": ["#8a8a8a","#8a8ae8","#8ff0f0","#f6b296","#a8a8e0","#f29a94","#8ccc8e","#cfc0f4","#f8c0cc"]}}
   }},
  {"width": 88, "height": 112, "title": "Coarse: Imag. ref. idx.", "data": {"name": "coarse_imag"},
   "mark": {"type": "line", "strokeWidth": 1, "clip": true, "point": {"shape": "diamond", "filled": false, "size": 26, "strokeWidth": 1, "clip": true}},
   "encoding": {
    "x": {"field": "aot", "type": "quantitative", "scale": {"type": "log", "domain": [0.05, 1.2], "nice": false}, "axis": {"values": [0.1, 1], "format": ".1f", "title": "AOT 555nm", "titlePadding": 4.5}},
    "y": {"field": "value", "type": "quantitative", "scale": {"domain": [0, 0.00058], "nice": false}, "axis": {"values": [0, 0.0001, 0.0002, 0.0003, 0.0004, 0.0005], "format": ".4f", "title": null}},
    "color": {"field": "site", "type": "nominal", "legend": null, "scale": {"domain": ["Amazon Forest","Boreal Forest","Paris","Lanai, Hawaii","Maldives","African Savanna","Cerrado Brazil","GSFC, Maryland","Mexico City"], "range": ["#8a8a8a","#8a8ae8","#8ff0f0","#f6b296","#a8a8e0","#f29a94","#8ccc8e","#cfc0f4","#f8c0cc"]}}
   }},
  {"width": 86, "height": 112, "title": "Coarse: Eff. radius", "data": {"name": "coarse_radius"},
   "mark": {"type": "line", "strokeWidth": 1, "clip": true, "point": {"shape": "diamond", "filled": false, "size": 26, "strokeWidth": 1, "clip": true}},
   "encoding": {
    "x": {"field": "aot", "type": "quantitative", "scale": {"type": "log", "domain": [0.05, 1.2], "nice": false}, "axis": {"values": [0.1, 1], "format": ".1f", "title": "AOT 555nm", "titlePadding": 4.5}},
    "y": {"field": "value", "type": "quantitative", "scale": {"domain": [0, 0.247], "nice": false}, "axis": {"values": [0, 0.05, 0.1, 0.15, 0.2], "format": ".2f", "title": null}},
    "color": {"field": "site", "type": "nominal", "legend": null, "scale": {"domain": ["Amazon Forest","Boreal Forest","Paris","Lanai, Hawaii","Maldives","African Savanna","Cerrado Brazil","GSFC, Maryland","Mexico City"], "range": ["#8a8a8a","#8a8ae8","#8ff0f0","#f6b296","#a8a8e0","#f29a94","#8ccc8e","#cfc0f4","#f8c0cc"]}}
   }},
  {"width": 82, "height": 112, "title": "Coarse: Eff. var.", "data": {"name": "coarse_var"},
   "mark": {"type": "line", "strokeWidth": 1, "clip": true, "point": {"shape": "diamond", "filled": false, "size": 26, "strokeWidth": 1, "clip": true}},
   "encoding": {
    "x": {"field": "aot", "type": "quantitative", "scale": {"type": "log", "domain": [0.05, 1.2], "nice": false}, "axis": {"values": [0.1, 1], "format": ".1f", "title": "AOT 555nm", "titlePadding": 4.5}},
    "y": {"field": "value", "type": "quantitative", "scale": {"domain": [0, 0.0545], "nice": false}, "axis": {"values": [0, 0.01, 0.02, 0.03, 0.04, 0.05], "format": ".2f", "title": null}},
    "color": {"field": "site", "type": "nominal", "legend": null, "scale": {"domain": ["Amazon Forest","Boreal Forest","Paris","Lanai, Hawaii","Maldives","African Savanna","Cerrado Brazil","GSFC, Maryland","Mexico City"], "range": ["#8a8a8a","#8a8ae8","#8ff0f0","#f6b296","#a8a8e0","#f29a94","#8ccc8e","#cfc0f4","#f8c0cc"]}}
   }}
 ]
},
{
 "spacing": 15,
 "resolve": {"legend": {"color": "independent"}},
 "hconcat": [
  {"spacing": 42, "bounds": "flush",
   "resolve": {"legend": {"color": "independent"}},
   "hconcat": [
    {"width": 83, "height": 114, "title": {"text": "Chl", "offset": -12}, "data": {"name": "chl"},
     "mark": {"type": "line", "strokeWidth": 1, "clip": true, "point": {"shape": "diamond", "filled": false, "size": 26, "strokeWidth": 1, "clip": true}},
     "encoding": {
      "x": {"field": "aot", "type": "quantitative", "scale": {"type": "log", "domain": [0.05, 1.2], "nice": false}, "axis": {"values": [0.1, 1], "format": ".1f", "title": "AOT 555nm"}},
      "y": {"field": "value", "type": "quantitative", "scale": {"domain": [0, 0.0017], "nice": false}, "axis": {"values": [0, 0.0005, 0.001, 0.0015], "format": ".4f", "title": "Simulated Uncertainty", "titleX": -39, "titleY": 48, "titleFontSize": 12.5, "titleColor": "#a8a8a8"}},
      "color": {"field": "site", "type": "nominal", "legend": null, "scale": {"domain": ["Amazon Forest","Boreal Forest","Paris","Lanai, Hawaii","Maldives","African Savanna","Cerrado Brazil","GSFC, Maryland","Mexico City"], "range": ["#8a8a8a","#8a8ae8","#8ff0f0","#f6b296","#a8a8e0","#f29a94","#8ccc8e","#cfc0f4","#f8c0cc"]}}
     }},
    {"width": 80, "height": 114, "title": "WS", "data": {"name": "ws"},
     "mark": {"type": "line", "strokeWidth": 1, "clip": true, "point": {"shape": "diamond", "filled": false, "size": 26, "strokeWidth": 1, "clip": true}},
     "encoding": {
      "x": {"field": "aot", "type": "quantitative", "scale": {"type": "log", "domain": [0.05, 1.2], "nice": false}, "axis": {"values": [0.1, 1], "format": ".1f", "title": "AOT 555nm"}},
      "y": {"field": "value", "type": "quantitative", "scale": {"domain": [0, 0.0117], "nice": false}, "axis": {"values": [0, 0.002, 0.004, 0.006, 0.008, 0.01], "format": ".3f", "title": null}},
      "color": {"field": "site", "type": "nominal", "legend": null, "scale": {"domain": ["Amazon Forest","Boreal Forest","Paris","Lanai, Hawaii","Maldives","African Savanna","Cerrado Brazil","GSFC, Maryland","Mexico City"], "range": ["#8a8a8a","#8a8ae8","#8ff0f0","#f6b296","#a8a8e0","#f29a94","#8ccc8e","#cfc0f4","#f8c0cc"]}}
     }}
   ]},
  {"spacing": 7,
   "resolve": {"legend": {"color": "independent"}},
   "vconcat": [
    {"width": 320, "height": 1, "view": {"stroke": null},
     "data": {"name": "sites"},
     "mark": {"type": "point", "opacity": 0},
     "encoding": {}},
    {"width": 320, "height": 124,
     "view": {"stroke": "#000000", "strokeWidth": 1},
     "data": {"name": "sites"},
     "mark": {"type": "point", "opacity": 0},
     "encoding": {
      "color": {"field": "site", "type": "nominal",
       "scale": {"domain": ["Amazon Forest","Boreal Forest","Paris","Lanai, Hawaii","Maldives","African Savanna","Cerrado Brazil","GSFC, Maryland","Mexico City"], "range": ["#8a8a8a","#8a8ae8","#8ff0f0","#f6b296","#a8a8e0","#f29a94","#8ccc8e","#cfc0f4","#f8c0cc"]},
       "legend": {"orient": "none", "legendX": -10, "legendY": 4.4, "title": null, "columns": 2, "symbolSize": 0, "symbolStrokeWidth": 0, "symbolOpacity": 0, "labelOffset": 0, "labelFontSize": 16, "labelFontWeight": "bold", "labelFont": "Liberation Sans", "labelLimit": 0, "columnPadding": 10.4, "rowPadding": 3.1, "padding": 0,
        "labelColor": {"expr": "datum.value === 'Amazon Forest' ? '#000000' : datum.value === 'African Savanna' ? '#d01c1c' : datum.value === 'Boreal Forest' ? '#1616a8' : datum.value === 'Cerrado Brazil' ? '#17703c' : datum.value === 'Paris' ? '#40e4e4' : datum.value === 'GSFC, Maryland' ? '#9a72d6' : datum.value === 'Lanai, Hawaii' ? '#e07a2c' : datum.value === 'Mexico City' ? '#c21616' : '#10108e'"}}
      }
     }}
   ]}
 ]
}
]
}
